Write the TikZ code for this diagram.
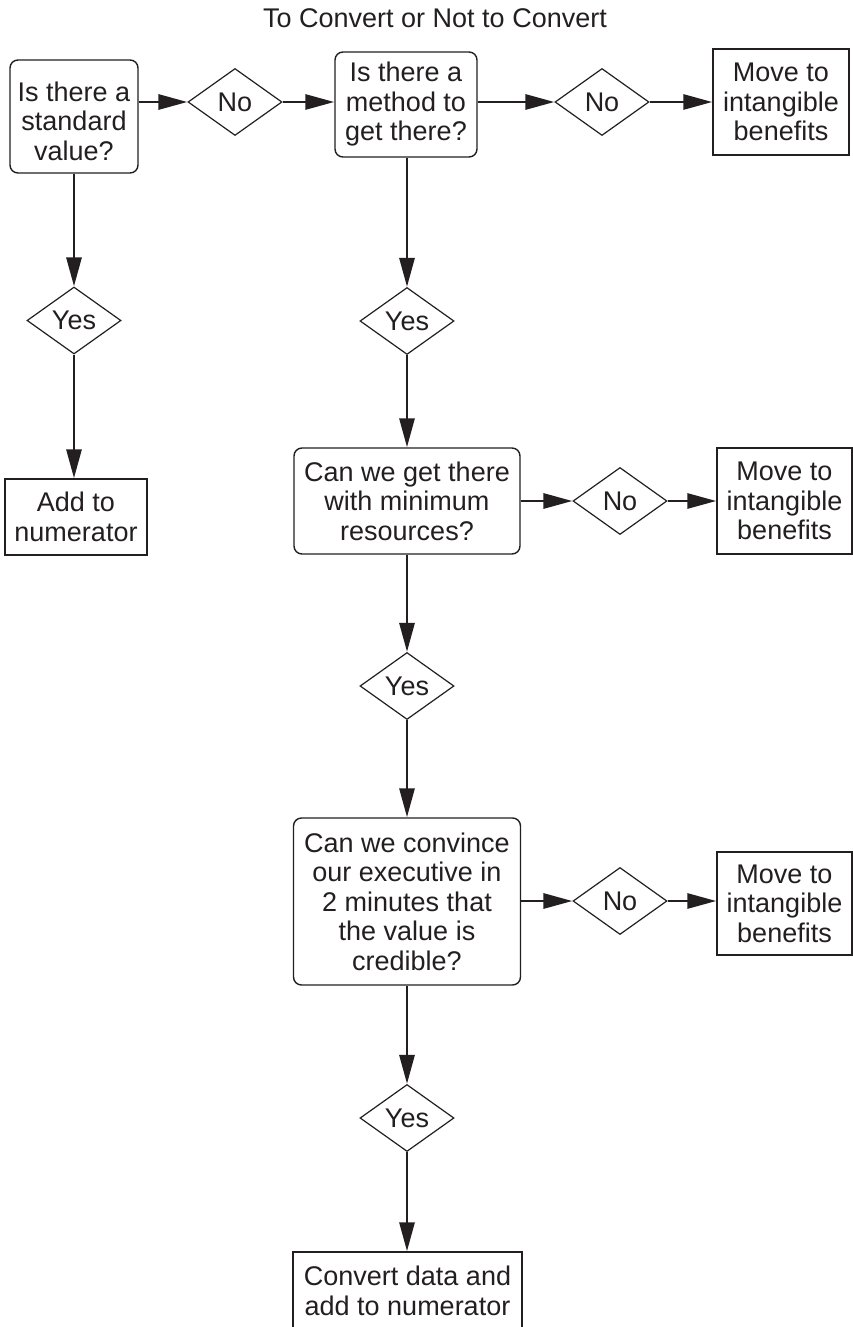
\documentclass[tikz,border=0pt]{standalone}
\usepackage{fontspec}
\setmainfont{Liberation Sans}
\usetikzlibrary{arrows.meta,shapes.geometric}
\definecolor{ink}{RGB}{35,31,32}
\begin{document}
\begin{tikzpicture}[x=1pt,y=-1pt,
  every node/.style={font=\fontsize{27}{29.5}\selectfont, text=ink, align=center, inner sep=0pt},
  qbox/.style={draw=ink, line width=1.4pt, rounded corners=8pt},
  abox/.style={draw=ink, line width=1.4pt},
  choice/.style={draw=ink, line width=1.2pt, shape=diamond, aspect=1.4,
    minimum width=94pt, minimum height=67pt},
  flow/.style={draw=ink, line width=2.9pt, -{Triangle[length=29pt,width=15pt]}}
]
\useasboundingbox (0,0) rectangle (853,1327);
\fill[white] (0,0) rectangle (853,1327);

\node (title) at (435,18) {To Convert or Not to Convert};

% first row
\node[qbox, minimum width=128pt, minimum height=113pt] (std) at (74,116.5) {};
\node (stdtext) at (74,121) {Is there a\\standard\\value?};
\node[choice] (no1) at (235,102) {No};
\node[qbox, minimum width=142pt, minimum height=105pt] (method) at (406,104.5) {Is there a\\method to\\get there?};
\node[choice] (no2) at (602,102) {No};
\node[abox, minimum width=136pt, minimum height=106pt] (int1) at (781,102) {Move to\\intangible\\benefits};

% left column
\node[choice] (yes1) at (74,320.5) {Yes};
\node[abox, minimum width=142pt, minimum height=76pt] (add) at (76,517) {Add to\\numerator};

% middle column
\node[choice] (yes2) at (407,321) {Yes};
\node[qbox, minimum width=226pt, minimum height=106pt] (res) at (407,501) {Can we get there\\with minimum\\resources?};
\node[choice] (no3) at (620,501) {No};
\node[abox, minimum width=135pt, minimum height=106pt] (int2) at (784.5,501) {Move to\\intangible\\benefits};

\node[choice] (yes3) at (407,686) {Yes};
\node[qbox, minimum width=227pt, minimum height=167pt] (exec) at (407,901.5) {Can we convince\\our executive in\\2 minutes that\\the value is\\credible?};
\node[choice] (no4) at (620,901) {No};
\node[abox, minimum width=135pt, minimum height=103pt] (int3) at (784.5,903.5) {Move to\\intangible\\benefits};

\node[choice] (yes4) at (407,1118) {Yes};
\node[abox, minimum width=229pt, minimum height=78pt] (conv) at (407.5,1291) {Convert data and\\add to numerator};

% connectors
\draw[flow] (std.east |- no1.west) -- (no1.west);
\draw[flow] (no1.east) -- (no1.east -| method.west);
\draw[flow] (method.east |- no2.west) -- (no2.west);
\draw[flow] (no2.east) -- (no2.east -| int1.west);

\draw[flow] (std.south) -- (yes1.north);
\draw[flow] (yes1.south) -- (yes1.south |- add.north);

\draw[flow] (method.south -| yes2.north) -- (yes2.north);
\draw[flow] (yes2.south) -- (yes2.south |- res.north);
\draw[flow] (res.east |- no3.west) -- (no3.west);
\draw[flow] (no3.east) -- (no3.east -| int2.west);

\draw[flow] (res.south -| yes3.north) -- (yes3.north);
\draw[flow] (yes3.south) -- (yes3.south |- exec.north);
\draw[flow] (exec.east |- no4.west) -- (no4.west);
\draw[flow] (no4.east) -- (no4.east -| int3.west);

\draw[flow] (exec.south -| yes4.north) -- (yes4.north);
\draw[flow] (yes4.south) -- (yes4.south |- conv.north);
\end{tikzpicture}
\end{document}
